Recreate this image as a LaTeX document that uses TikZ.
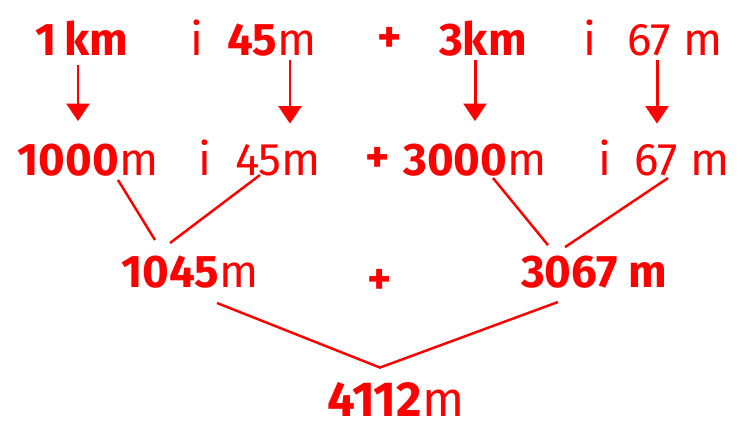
\documentclass[tikz,border=0pt]{standalone}
\usepackage{fontspec}
\setmainfont{Fira Sans}
\usetikzlibrary{arrows.meta, positioning, calc}

\begin{document}
\begin{tikzpicture}[
        x=0.02cm, y=-0.02cm,
        every node/.style={text=red, inner sep=0pt, anchor=base},
        num/.style={font=\fontsize{26}{30}\selectfont\bfseries},
        big/.style={font=\fontsize{28}{33}\selectfont\bfseries},
        thin/.style={font=\fontsize{26}{30}\selectfont},
        arr/.style={draw=red, line width=1.7pt, -{Triangle[width=13pt,length=10pt]}},
        seg/.style={draw=red, line width=1.4pt}
      ]
      \useasboundingbox (0,0) rectangle (743,430);
      % first row
      \node (km1) [num] at (82,55) {1\,km};
      \node (i1) [thin] at (197,55) {i};
      \node (a45) [num] at (272,55) {45{\mdseries m}};
      \node (p1) [num] at (390,52) {+};
      \node (km3) [num] at (483,55) {3km};
      \node (i2) [thin] at (590,55) {i};
      \node (a67) [thin] at (675,55) {67 m};
      % second row
      \node (m1000) [num] at (88,175) {1000{\mdseries m}};
      \node (i3) [thin] at (205,175) {i};
      \node (b45) [thin] at (278,175) {45m};
      \node (p2) [num] at (378,172) {+};
      \node (m3000) [num] at (475,175) {3000{\mdseries m}};
      \node (i4) [thin] at (605,175) {i};
      \node (b67) [thin] at (682,175) {67 m};
      % sums
      \node (s1) [num] at (190,287) {1045{\mdseries m}};
      \node (p3) [num] at (380,294) {+};
      \node (s2) [num] at (594,287) {3067 m};
      \node (total) [big] at (396,416) {4112{\mdseries m}};

      \draw[arr] ($(km1.base)+(-4,10)$) -- ($(km1.base |- m1000.north)+(-4,-22)$);
      \draw[arr] ($(a45.base)+(18,5)$) -- ($(a45.base |- b45.north)+(18,-20)$);
      \draw[arr] ($(km3.base)+(-8,5)$) -- ($(km3.base |- m3000.north)+(-8,-22)$);
      \draw[arr] ($(a67.base)+(-18,5)$) -- ($(a67.base |- b67.north)+(-18,-20)$);

      \draw[seg] ($(m1000.base)+(30,5)$) -- ($(s1.north)+(-35,-15)$);
      \draw[seg] ($(b45.base)+(-18,0)$) -- ($(s1.north)+(-20,-12)$);
      \draw[seg] ($(m3000.base)+(18,3)$) -- ($(s2.north)+(-46,-10)$);
      \draw[seg] ($(b67.base)+(-14,3)$) -- ($(s2.north)+(-29,-8)$);
      \draw[seg] ($(s1.base)+(27,16)$) -- ($(total.north)+(-16,-14)$) -- ($(s2.base)+(-36,15)$);
    \end{tikzpicture}
\end{document}
